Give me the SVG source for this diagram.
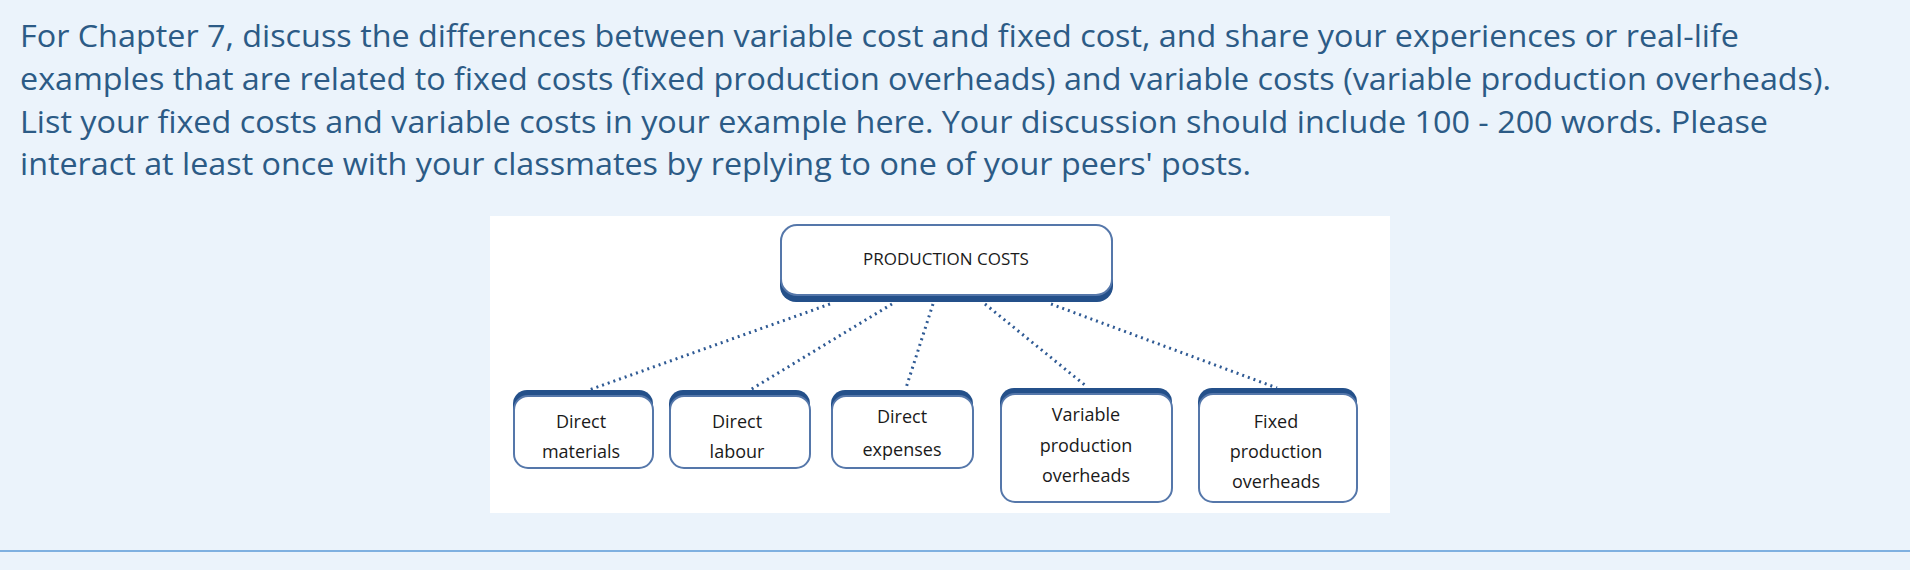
<svg xmlns="http://www.w3.org/2000/svg" width="1910" height="570" viewBox="0 0 1910 570">
<style>
.q{font-family:"Open Sans","Liberation Sans",sans-serif;font-size:31px;fill:#2c5b86}
.b{fill:#fff;stroke:#5577aa;stroke-width:2}
.s{fill:#24508a}
.t{font-family:"Open Sans","Liberation Sans",sans-serif;font-size:18px;font-weight:500;fill:#1a1a1a;text-anchor:middle}
.c{stroke:#2f5a94;stroke-width:3;stroke-dasharray:2 4;fill:none}
</style>
<rect width="1910" height="570" fill="#ebf3fb"/>
<line x1="0" y1="551" x2="1910" y2="551" stroke="#7fb0e0" stroke-width="2"/>
<text class="q" x="20" y="47" textLength="1719" lengthAdjust="spacingAndGlyphs">For Chapter 7, discuss the differences between variable cost and fixed cost, and share your experiences or real-life</text>
<text class="q" x="20" y="90" textLength="1811" lengthAdjust="spacingAndGlyphs">examples that are related to fixed costs (fixed production overheads) and variable costs (variable production overheads).</text>
<text class="q" x="20" y="133" textLength="1748" lengthAdjust="spacingAndGlyphs">List your fixed costs and variable costs in your example here. Your discussion should include 100 - 200 words. Please</text>
<text class="q" x="20" y="175" textLength="1231" lengthAdjust="spacingAndGlyphs">interact at least once with your classmates by replying to one of your peers' posts.</text>
<rect x="490" y="216" width="900" height="297" fill="#fff"/>
<g id="connectors">
<line class="c" x1="830" y1="304" x2="589" y2="390"/>
<line class="c" x1="892" y1="304" x2="750" y2="390"/>
<line class="c" x1="933" y1="304" x2="906" y2="388"/>
<line class="c" x1="985" y1="304" x2="1086" y2="386"/>
<line class="c" x1="1051" y1="304" x2="1277" y2="388"/>
</g>
<g id="production-costs">
<rect class="s" x="780" y="228" width="333" height="74" rx="16"/>
<rect class="b" x="781" y="225" width="331" height="70" rx="16"/>
<text class="t" x="946" y="265" style="font-size:17px">PRODUCTION COSTS</text>
</g>
<g id="direct-materials">
<rect class="s" x="513" y="390" width="140" height="40" rx="14"/>
<rect class="b" x="514" y="396" width="139" height="72" rx="14"/>
<text class="t" x="581" y="428">Direct</text><text class="t" x="581" y="458">materials</text>
</g>
<g id="direct-labour">
<rect class="s" x="669" y="390" width="141" height="40" rx="14"/>
<rect class="b" x="670" y="396" width="140" height="72" rx="14"/>
<text class="t" x="737" y="428">Direct</text><text class="t" x="737" y="458">labour</text>
</g>
<g id="direct-expenses">
<rect class="s" x="831" y="390" width="142" height="40" rx="14"/>
<rect class="b" x="832" y="396" width="141" height="72" rx="14"/>
<text class="t" x="902" y="423">Direct</text><text class="t" x="902" y="456">expenses</text>
</g>
<g id="variable-overheads">
<rect class="s" x="1000" y="388" width="172" height="40" rx="14"/>
<rect class="b" x="1001" y="394" width="171" height="108" rx="14"/>
<text class="t" x="1086" y="421">Variable</text><text class="t" x="1086" y="452">production</text><text class="t" x="1086" y="482">overheads</text>
</g>
<g id="fixed-overheads">
<rect class="s" x="1198" y="388" width="159" height="40" rx="14"/>
<rect class="b" x="1199" y="394" width="158" height="108" rx="14"/>
<text class="t" x="1276" y="428">Fixed</text><text class="t" x="1276" y="458">production</text><text class="t" x="1276" y="488">overheads</text>
</g>
</svg>
